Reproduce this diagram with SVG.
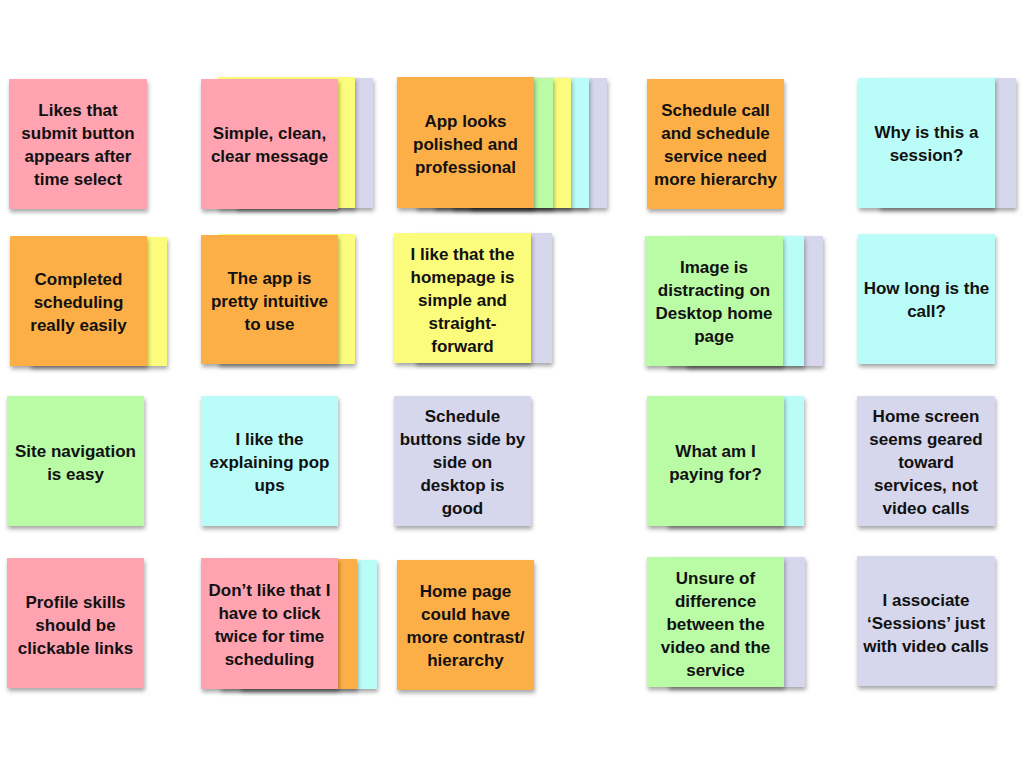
<svg xmlns="http://www.w3.org/2000/svg" width="1024" height="768" viewBox="0 0 1024 768">
<defs>
<filter id="sh" x="-10%" y="-10%" width="130%" height="130%">
<feDropShadow dx="1" dy="3" stdDeviation="2" flood-color="#000" flood-opacity="0.35"/>
</filter>
<style>
.c{filter:url(#sh)}
.pink{fill:#FFA3B1}
.yel{fill:#FCFC7C}
.lav{fill:#D6D6EC}
.org{fill:#FDAF46}
.grn{fill:#BAFBA6}
.cyn{fill:#BAFCF7}
text{font-family:"Liberation Sans",Arial,sans-serif;font-weight:bold;font-size:17px;fill:#111;text-anchor:middle;dominant-baseline:central}
</style>
</defs>
<rect width="1024" height="768" fill="#fff"/>
<g id="connectors"/>

<g id="n1">
<rect class="c pink" x="9" y="79" width="138" height="130"/>
<text x="78" y="110">Likes that</text><text x="78" y="133">submit button</text><text x="78" y="156">appears after</text><text x="78" y="179">time select</text>
</g>
<g id="n2">
<rect class="c lav" x="236" y="78" width="137" height="130"/>
<rect class="c yel" x="218" y="77" width="137" height="131"/>
<rect class="c pink" x="201" y="79" width="137" height="130"/>
<text x="269.500" y="133">Simple, clean,</text><text x="269.500" y="156">clear message</text>
</g>
<g id="n3">
<rect class="c lav" x="470" y="78" width="137" height="130"/>
<rect class="c cyn" x="452" y="78" width="137" height="130"/>
<rect class="c yel" x="434" y="78" width="137" height="130"/>
<rect class="c grn" x="416" y="78" width="137" height="130"/>
<rect class="c org" x="397" y="77" width="137" height="131"/>
<text x="465.500" y="121">App looks</text><text x="465.500" y="144">polished and</text><text x="465.500" y="167">professional</text>
</g>
<g id="n4">
<rect class="c org" x="647" y="79" width="137" height="130"/>
<text x="715.500" y="110">Schedule call</text><text x="715.500" y="133">and schedule</text><text x="715.500" y="156">service need</text><text x="715.500" y="179">more hierarchy</text>
</g>
<g id="n5">
<rect class="c lav" x="879" y="78" width="137" height="130"/>
<rect class="c cyn" x="858" y="78" width="137" height="130"/>
<text x="926.500" y="132">Why is this a</text><text x="926.500" y="155">session?</text>
</g>

<g id="n6">
<rect class="c yel" x="30" y="237" width="137" height="129"/>
<rect class="c org" x="10" y="236" width="137" height="130"/>
<text x="78.500" y="279">Completed</text><text x="78.500" y="302">scheduling</text><text x="78.500" y="325">really easily</text>
</g>
<g id="n7">
<rect class="c yel" x="218" y="234" width="137" height="130"/>
<rect class="c org" x="201" y="235" width="137" height="129"/>
<text x="269.500" y="278">The app is</text><text x="269.500" y="301">pretty intuitive</text><text x="269.500" y="324">to use</text>
</g>
<g id="n8">
<rect class="c lav" x="415" y="233" width="137" height="130"/>
<rect class="c yel" x="394" y="233" width="137" height="130"/>
<text x="462.500" y="254">I like that the</text><text x="462.500" y="277">homepage is</text><text x="462.500" y="300">simple and</text><text x="462.500" y="323">straight-</text><text x="462.500" y="346">forward</text>
</g>
<g id="n9">
<rect class="c lav" x="686" y="236" width="137" height="130"/>
<rect class="c cyn" x="667" y="236" width="137" height="130"/>
<rect class="c grn" x="645" y="236" width="138" height="130"/>
<text x="714" y="267">Image is</text><text x="714" y="290">distracting on</text><text x="714" y="313">Desktop home</text><text x="714" y="336">page</text>
</g>
<g id="n10">
<rect class="c cyn" x="858" y="234" width="137" height="130"/>
<text x="926.500" y="288">How long is the</text><text x="926.500" y="311">call?</text>
</g>

<g id="n11">
<rect class="c grn" x="7" y="396" width="137" height="130"/>
<text x="75.500" y="451">Site navigation</text><text x="75.500" y="474">is easy</text>
</g>
<g id="n12">
<rect class="c cyn" x="201" y="396" width="137" height="130"/>
<text x="269.500" y="439">I like the</text><text x="269.500" y="462">explaining pop</text><text x="269.500" y="485">ups</text>
</g>
<g id="n13">
<rect class="c lav" x="394" y="396" width="137" height="130"/>
<text x="462.500" y="416">Schedule</text><text x="462.500" y="439">buttons side by</text><text x="462.500" y="462">side on</text><text x="462.500" y="485">desktop is</text><text x="462.500" y="508">good</text>
</g>
<g id="n14">
<rect class="c cyn" x="667" y="396" width="137" height="130"/>
<rect class="c grn" x="647" y="396" width="137" height="130"/>
<text x="715.500" y="451">What am I</text><text x="715.500" y="474">paying for?</text>
</g>
<g id="n15">
<rect class="c lav" x="857" y="396" width="138" height="130"/>
<text x="926" y="416">Home screen</text><text x="926" y="439">seems geared</text><text x="926" y="462">toward</text><text x="926" y="485">services, not</text><text x="926" y="508">video calls</text>
</g>

<g id="n16">
<rect class="c pink" x="7" y="558" width="137" height="130"/>
<text x="75.500" y="602">Profile skills</text><text x="75.500" y="625">should be</text><text x="75.500" y="648">clickable links</text>
</g>
<g id="n17">
<rect class="c cyn" x="240" y="560" width="137" height="129"/>
<rect class="c org" x="220" y="559" width="137" height="130"/>
<rect class="c pink" x="201" y="558" width="137" height="131"/>
<text x="269.500" y="590">Don’t like that I</text><text x="269.500" y="613">have to click</text><text x="269.500" y="636">twice for time</text><text x="269.500" y="659">scheduling</text>
</g>
<g id="n18">
<rect class="c org" x="397" y="560" width="137" height="130"/>
<text x="465.500" y="591">Home page</text><text x="465.500" y="614">could have</text><text x="465.500" y="637">more contrast/</text><text x="465.500" y="660">hierarchy</text>
</g>
<g id="n19">
<rect class="c lav" x="668" y="557" width="137" height="130"/>
<rect class="c grn" x="647" y="557" width="137" height="130"/>
<text x="715.500" y="578">Unsure of</text><text x="715.500" y="601">difference</text><text x="715.500" y="624">between the</text><text x="715.500" y="647">video and the</text><text x="715.500" y="670">service</text>
</g>
<g id="n20">
<rect class="c lav" x="857" y="556" width="138" height="130"/>
<text x="926" y="600">I associate</text><text x="926" y="623">‘Sessions’ just</text><text x="926" y="646">with video calls</text>
</g>
</svg>
